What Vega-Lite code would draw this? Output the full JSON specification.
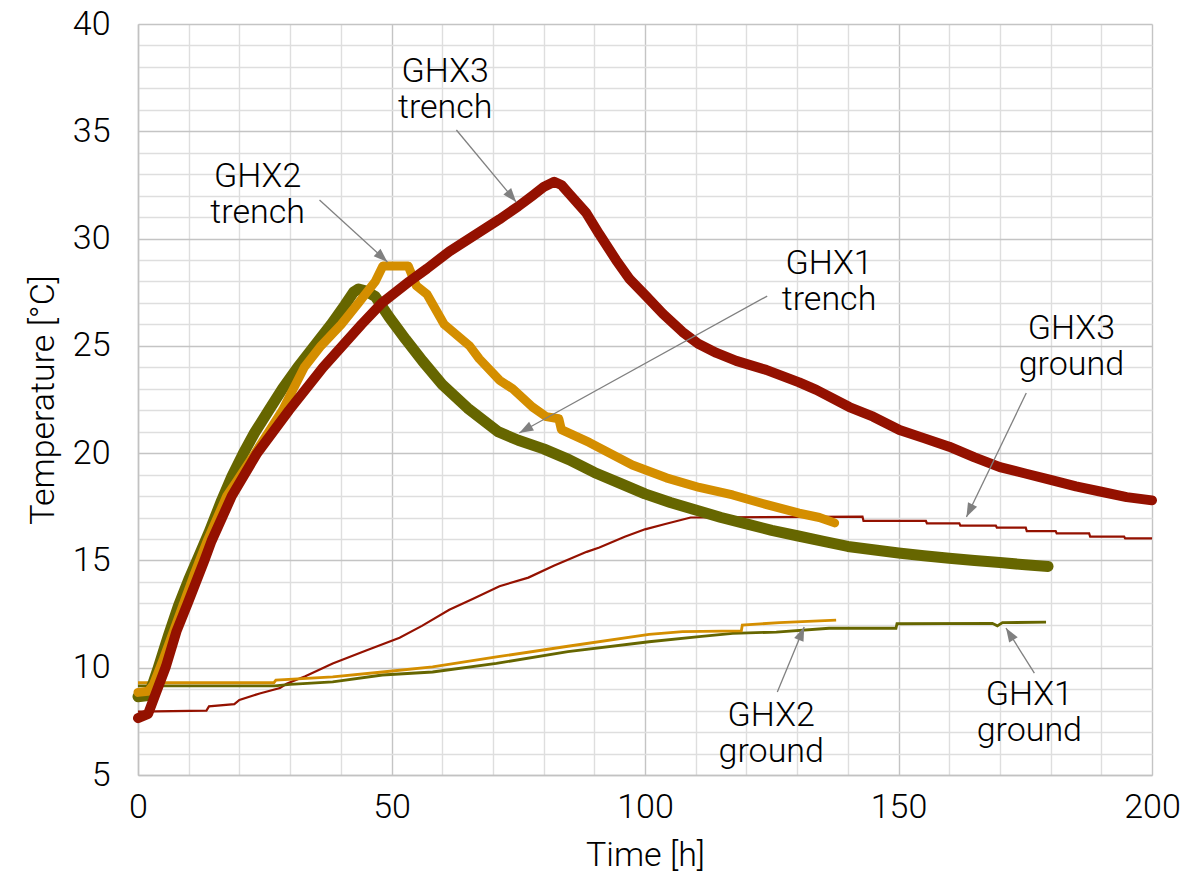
{
  "$schema": "https://vega.github.io/schema/vega-lite/v6.json",
  "width": 1014,
  "height": 751,
  "autosize": {"type": "none"},
  "padding": {"left": 138, "top": 24, "right": 51, "bottom": 102},
  "background": "white",
  "config": {
    "view": {"stroke": null},
    "font": "Roboto",
    "axis": {
      "labelFont": "Roboto", "titleFont": "Roboto",
      "labelFontWeight": 300, "titleFontWeight": 300,
      "labelFontSize": 34, "titleFontSize": 34,
      "labelColor": "#000000", "titleColor": "#000000",
      "ticks": false, "domainColor": "#c2c2c2", "domainWidth": 1.5,
      "gridWidth": 1.4
    }
  },
  "datasets": {
    "ghx1_trench": [
      {"t":0,"T":8.65},{"t":2,"T":8.7},{"t":3,"T":9.3},{"t":4,"T":10.0},{"t":5,"T":10.75},{"t":6,"T":11.5},{"t":8,"T":12.9},{"t":10,"T":14.1},{"t":12,"T":15.2},{"t":14,"T":16.3},{"t":16.5,"T":17.8},{"t":18.5,"T":18.9},{"t":20.8,"T":20.0},{"t":23,"T":20.95},{"t":25.8,"T":22.0},{"t":28.5,"T":23.0},{"t":31.5,"T":24.0},{"t":34.8,"T":25.0},{"t":38.1,"T":26.0},{"t":40.8,"T":26.9},{"t":42.5,"T":27.5},{"t":43.5,"T":27.65},{"t":45,"T":27.55},{"t":46.8,"T":27.3},{"t":49.5,"T":26.35},{"t":52.8,"T":25.3},{"t":56.1,"T":24.3},{"t":60,"T":23.2},{"t":65,"T":22.1},{"t":71,"T":21.0},{"t":75,"T":20.6},{"t":80,"T":20.2},{"t":85,"T":19.7},{"t":90,"T":19.1},{"t":95,"T":18.6},{"t":100,"T":18.1},{"t":105,"T":17.7},{"t":110,"T":17.35},{"t":115,"T":17.0},{"t":120,"T":16.7},{"t":125,"T":16.4},{"t":130,"T":16.15},{"t":135,"T":15.9},{"t":140,"T":15.65},{"t":145,"T":15.5},{"t":150,"T":15.35},{"t":155,"T":15.22},{"t":160,"T":15.1},{"t":165,"T":15.0},{"t":170,"T":14.9},{"t":175,"T":14.8},{"t":179.5,"T":14.72}
    ],
    "ghx2_trench": [
      {"t":0,"T":8.85},{"t":2,"T":8.9},{"t":3,"T":9.2},{"t":5,"T":10.4},{"t":7,"T":11.7},{"t":9,"T":13.0},{"t":11,"T":14.3},{"t":13.8,"T":16.0},{"t":17.5,"T":18.0},{"t":19.5,"T":18.7},{"t":23.1,"T":20.0},{"t":28.5,"T":22.0},{"t":32.8,"T":24.0},{"t":36.1,"T":25.0},{"t":40.1,"T":26.0},{"t":43.5,"T":27.0},{"t":46.8,"T":28.0},{"t":48.3,"T":28.72},{"t":53.3,"T":28.72},{"t":54.9,"T":27.8},{"t":57,"T":27.4},{"t":60.4,"T":26.0},{"t":65.4,"T":25.0},{"t":67.3,"T":24.4},{"t":71.3,"T":23.4},{"t":73.9,"T":23.0},{"t":77.8,"T":22.15},{"t":80.5,"T":21.7},{"t":83,"T":21.6},{"t":83.5,"T":21.1},{"t":89,"T":20.5},{"t":97.5,"T":19.45},{"t":104.2,"T":18.85},{"t":110.7,"T":18.4},{"t":117.3,"T":18.05},{"t":124,"T":17.6},{"t":130.4,"T":17.2},{"t":134.4,"T":17.0},{"t":137.4,"T":16.75}
    ],
    "ghx3_trench": [
      {"t":0,"T":7.65},{"t":2,"T":7.85},{"t":3.5,"T":8.8},{"t":5.5,"T":10.05},{"t":7.6,"T":11.7},{"t":9.8,"T":13.0},{"t":13.1,"T":15.0},{"t":14.5,"T":15.9},{"t":18.5,"T":18.0},{"t":23.5,"T":20.0},{"t":29.8,"T":22.0},{"t":36.5,"T":24.0},{"t":44.1,"T":26.0},{"t":48.1,"T":27.0},{"t":53.5,"T":28.0},{"t":57,"T":28.6},{"t":61.4,"T":29.4},{"t":66,"T":30.1},{"t":71.3,"T":30.9},{"t":75,"T":31.5},{"t":77.8,"T":32.0},{"t":80,"T":32.4},{"t":82.1,"T":32.65},{"t":83.5,"T":32.5},{"t":85,"T":32.1},{"t":88.4,"T":31.2},{"t":91,"T":30.2},{"t":94.3,"T":29.0},{"t":97,"T":28.1},{"t":100.3,"T":27.3},{"t":103.5,"T":26.5},{"t":107.4,"T":25.65},{"t":110.5,"T":25.1},{"t":114.1,"T":24.67},{"t":118,"T":24.3},{"t":123.9,"T":23.88},{"t":130.4,"T":23.3},{"t":133.8,"T":22.95},{"t":140.3,"T":22.15},{"t":145,"T":21.7},{"t":150.2,"T":21.08},{"t":155,"T":20.7},{"t":160,"T":20.3},{"t":165,"T":19.8},{"t":170,"T":19.35},{"t":175,"T":19.05},{"t":180,"T":18.75},{"t":185,"T":18.45},{"t":190,"T":18.2},{"t":195,"T":17.95},{"t":200,"T":17.8}
    ],
    "ghx1_ground": [
      {"t":0,"T":9.15},{"t":27,"T":9.15},{"t":30,"T":9.22},{"t":38.4,"T":9.34},{"t":48.2,"T":9.66},{"t":58.1,"T":9.8},{"t":70.7,"T":10.2},{"t":84.8,"T":10.75},{"t":100.8,"T":11.21},{"t":110.7,"T":11.45},{"t":117.3,"T":11.6},{"t":125.9,"T":11.66},{"t":136.3,"T":11.84},{"t":149.5,"T":11.84},{"t":149.7,"T":12.05},{"t":168.5,"T":12.07},{"t":169.5,"T":11.95},{"t":170.5,"T":12.1},{"t":179.1,"T":12.12}
    ],
    "ghx2_ground": [
      {"t":0,"T":9.3},{"t":26.8,"T":9.3},{"t":27.2,"T":9.42},{"t":38.4,"T":9.57},{"t":48.2,"T":9.8},{"t":58.1,"T":10.04},{"t":70.7,"T":10.5},{"t":84.8,"T":11.0},{"t":100.8,"T":11.55},{"t":107.4,"T":11.68},{"t":119,"T":11.72},{"t":119.2,"T":11.99},{"t":126.5,"T":12.1},{"t":137.7,"T":12.22}
    ],
    "ghx3_ground": [
      {"t":0,"T":7.95},{"t":13.5,"T":8.0},{"t":14,"T":8.2},{"t":19,"T":8.3},{"t":20,"T":8.5},{"t":24,"T":8.8},{"t":28,"T":9.05},{"t":29.3,"T":9.25},{"t":33,"T":9.6},{"t":38.4,"T":10.2},{"t":45,"T":10.8},{"t":51.6,"T":11.4},{"t":56,"T":11.95},{"t":61.4,"T":12.7},{"t":66,"T":13.2},{"t":71.3,"T":13.8},{"t":77,"T":14.2},{"t":82,"T":14.75},{"t":88.5,"T":15.4},{"t":91,"T":15.6},{"t":96,"T":16.1},{"t":100,"T":16.45},{"t":104,"T":16.7},{"t":109,"T":17.0},{"t":142.9,"T":17.04},{"t":143.1,"T":16.84},{"t":155.4,"T":16.84},{"t":155.6,"T":16.73},{"t":162,"T":16.73},{"t":162.2,"T":16.62},{"t":169.2,"T":16.62},{"t":169.4,"T":16.53},{"t":175.1,"T":16.53},{"t":175.3,"T":16.37},{"t":181,"T":16.37},{"t":181.2,"T":16.26},{"t":187.6,"T":16.26},{"t":187.8,"T":16.11},{"t":194.5,"T":16.11},{"t":194.7,"T":16.03},{"t":200,"T":16.03}
    ],
    "labels": [
      {"label":"GHX3\ntrench","t":60.6,"T":36.92},
      {"label":"GHX2\ntrench","t":23.6,"T":32.03},
      {"label":"GHX1\ntrench","t":136.3,"T":27.98},
      {"label":"GHX3\nground","t":184.1,"T":24.95},
      {"label":"GHX1\nground","t":175.8,"T":7.89},
      {"label":"GHX2\nground","t":124.9,"T":6.91}
    ],
    "arrows": [
      {"t":62.8,"T":35.06,"t2":74.6,"T2":31.7},
      {"t":35.8,"T":31.8,"t2":49.2,"T2":28.91},
      {"t":124.1,"T":27.32,"t2":75.2,"T2":20.94},
      {"t":175.2,"T":22.8,"t2":163.4,"T2":17.02},
      {"t":176.8,"T":9.75,"t2":171.2,"T2":11.85},
      {"t":126.1,"T":8.87,"t2":131.4,"T2":11.9}
    ]
  },
  "encoding": {
    "x": {
      "field": "t", "type": "quantitative",
      "scale": {"domain": [0, 200], "nice": false, "zero": false},
      "axis": {
        "title": "Time [h]",
        "values": [0,10,20,30,40,50,60,70,80,90,100,110,120,130,140,150,160,170,180,190,200],
        "labelExpr": "datum.value % 50 === 0 ? datum.label : ''",
        "labelPadding": 15, "titlePadding": 14,
        "labelFlush": false, "labelOverlap": false,
        "grid": true,
        "gridColor": {"condition": {"test": "datum.value % 50 === 0", "value": "#c4c4c4"}, "value": "#dedede"}
      }
    },
    "y": {
      "field": "T", "type": "quantitative",
      "scale": {"domain": [5, 40], "nice": false, "zero": false},
      "axis": {
        "title": "Temperature [°C]",
        "values": [5,6,7,8,9,10,11,12,13,14,15,16,17,18,19,20,21,22,23,24,25,26,27,28,29,30,31,32,33,34,35,36,37,38,39,40],
        "labelExpr": "datum.value % 5 === 0 ? datum.label : ''",
        "labelPadding": 28, "titlePadding": 12,
        "labelFlush": false, "labelOverlap": false,
        "grid": true,
        "gridColor": {"condition": {"test": "datum.value % 5 === 0", "value": "#c4c4c4"}, "value": "#dedede"}
      }
    }
  },
  "layer": [
    {"data": {"name": "ghx3_ground"}, "mark": {"type": "line", "color": "#941100", "strokeWidth": 2.2}},
    {"data": {"name": "ghx1_ground"}, "mark": {"type": "line", "color": "#666600", "strokeWidth": 2.8}},
    {"data": {"name": "ghx2_ground"}, "mark": {"type": "line", "color": "#d48e00", "strokeWidth": 2.8}},
    {"data": {"name": "ghx1_trench"}, "mark": {"type": "line", "color": "#666600", "strokeWidth": 11, "strokeCap": "round", "strokeJoin": "round"}},
    {"data": {"name": "ghx2_trench"}, "mark": {"type": "line", "color": "#d48e00", "strokeWidth": 9, "strokeCap": "round", "strokeJoin": "round"}},
    {"data": {"name": "ghx3_trench"}, "mark": {"type": "line", "color": "#941100", "strokeWidth": 10, "strokeCap": "round", "strokeJoin": "round"}},
    {
      "data": {"name": "arrows"},
      "mark": {"type": "rule", "color": "#808080", "strokeWidth": 1.3},
      "encoding": {"x2": {"field": "t2"}, "y2": {"field": "T2"}}
    },
    {
      "data": {"name": "arrows"},
      "transform": [{"calculate": "atan2((datum.t2 - datum.t) * 5.07, (datum.T2 - datum.T) * 21.46) * 180 / PI", "as": "ang"}],
      "mark": {"type": "point", "shape": "M0,0L0.36,1L-0.36,1Z", "filled": true, "size": 784, "color": "#808080", "opacity": 1, "strokeWidth": 0},
      "encoding": {
        "x": {"field": "t2", "type": "quantitative"},
        "y": {"field": "T2", "type": "quantitative"},
        "angle": {"field": "ang", "type": "quantitative", "scale": null}
      }
    },
    {
      "data": {"name": "labels"},
      "mark": {"type": "text", "font": "Roboto", "fontWeight": 300, "fontSize": 34, "lineHeight": 36, "lineBreak": "\n", "align": "center", "baseline": "middle", "dy": -18, "color": "#000000"},
      "encoding": {"text": {"field": "label"}}
    }
  ]
}
